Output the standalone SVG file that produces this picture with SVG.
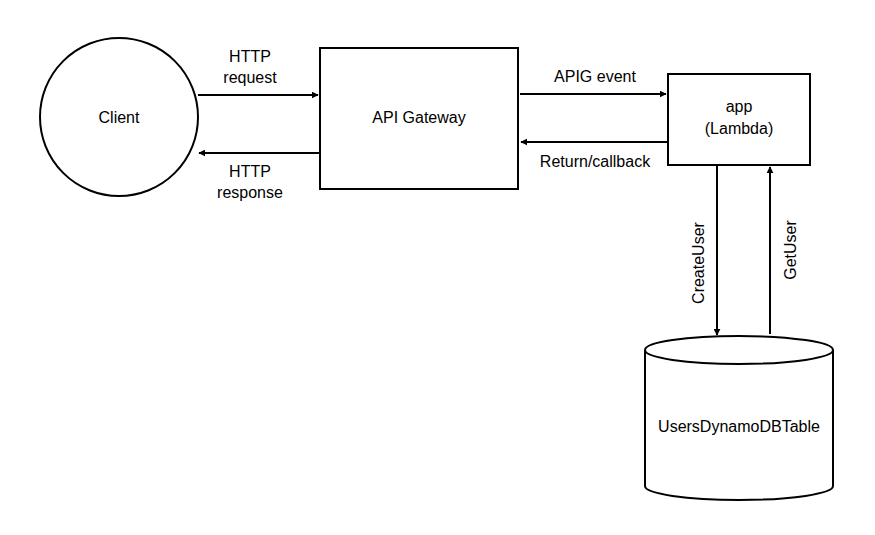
<svg xmlns="http://www.w3.org/2000/svg" width="875" height="535" viewBox="0 0 875 535">
<style>
.s{fill:#fff;stroke:#000;stroke-width:2}
.t{font-family:"Liberation Sans",Arial,sans-serif;font-size:16px;text-anchor:middle;fill:#000}
.c{stroke:#000;stroke-width:2;fill:none;marker-end:url(#a)}
</style>
<defs><marker id="a" viewBox="0 0 10 10" refX="9" refY="5" markerWidth="7" markerHeight="7" markerUnits="userSpaceOnUse" orient="auto"><path d="M0,0L10,5L0,10z" fill="#000"/></marker>
</defs>
<rect width="875" height="535" fill="#fff"/>
<g id="client"><circle class="s" cx="119" cy="117" r="79"/><text class="t" x="119" y="123">Client</text></g>
<g id="apigw"><rect class="s" x="320" y="48" width="198" height="141"/><text class="t" x="419" y="123">API Gateway</text></g>
<g id="app"><rect class="s" x="668" y="74" width="142" height="91"/><text class="t" x="739" y="112">app</text><text class="t" x="739" y="134">(Lambda)</text></g>
<g id="db"><path class="s" d="M645,350 L645,486 A94,14 0 0 0 833,486 L833,350 A94,14 0 0 0 645,350 A94,14 0 0 0 833,350"/><text class="t" x="739" y="432">UsersDynamoDBTable</text></g>
<g id="connectors">
<path class="c" d="M198,95H318"/>
<path class="c" d="M320,153H199"/>
<path class="c" d="M520,94H666"/>
<path class="c" d="M668,142H521"/>
<path class="c" d="M717,165V335"/>
<path class="c" d="M770,334V167"/>
<text class="t" x="250" y="62">HTTP</text><text class="t" x="250" y="83">request</text>
<text class="t" x="250" y="177">HTTP</text><text class="t" x="250" y="198">response</text>
<text class="t" x="595" y="82">APIG event</text>
<text class="t" x="595" y="167">Return/callback</text>
<text class="t" transform="translate(704,263) rotate(-90)">CreateUser</text>
<text class="t" transform="translate(796,250) rotate(-90)">GetUser</text>
</g>
</svg>
